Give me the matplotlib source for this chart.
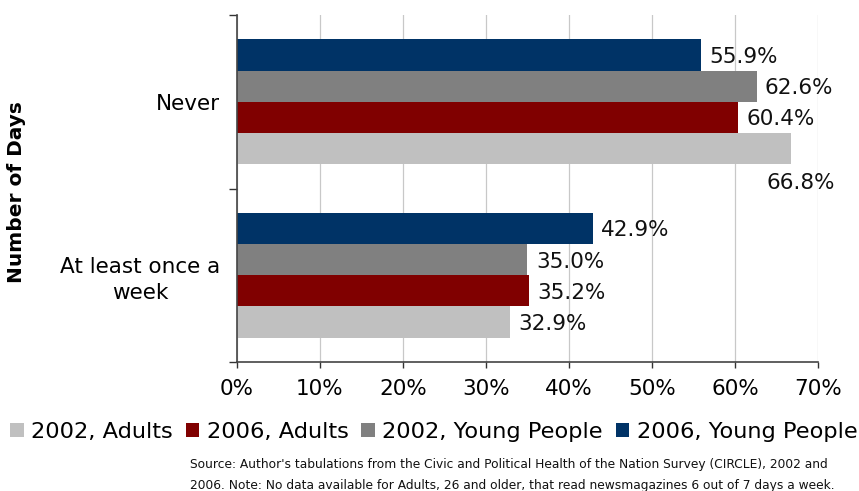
import matplotlib.pyplot as plt
from matplotlib.patches import Patch
import numpy as np

# categories, bottom to top
categories = ['At least once a\nweek', 'Never']
series = ['2002, Adults', '2006, Adults', '2002, Young People', '2006, Young People']
colors = ['#C0C0C0', '#800000', '#808080', '#003366']

# values per series, same order as categories
adults_2002 = [32.9, 66.8]
adults_2006 = [35.2, 60.4]
young_2002 = [35.0, 62.6]
young_2006 = [42.9, 55.9]
VALUES = [adults_2002, adults_2006, young_2002, young_2006]

xticks = [0, 10, 20, 30, 40, 50, 60, 70]

source = ("Source: Author's tabulations from the Civic and Political Health of the Nation Survey (CIRCLE), 2002 and\n"
          "2006. Note: No data available for Adults, 26 and older, that read newsmagazines 6 out of 7 days a week.")

plt.rcParams['font.family'] = 'DejaVu Sans'
FS = 15.5

fig = plt.figure(figsize=(8.59, 4.91), dpi=100)
W, H = 859.0, 491.0
ax = fig.add_axes([237 / W, 1 - 362 / H, (818 - 237) / W, (362 - 15) / H])

h = 0.18
ypos = np.arange(len(categories))
for i, vals in enumerate(VALUES):
    y = ypos + (i - 1.5) * h
    ax.barh(y, vals, height=h, color=colors[i], zorder=2)
    for yy, v in zip(y, vals):
        if v == 66.8:
            # this one sits below the bar in the original
            ax.annotate('%.1f%%' % v, (v, yy), xytext=(7, -25), textcoords='offset points',
                        ha='center', va='center', fontsize=FS, color='#111111')
        else:
            ax.annotate('%.1f%%' % v, (v, yy), xytext=(6, -1.5), textcoords='offset points',
                        ha='left', va='center', fontsize=FS, color='#111111')

ax.set_xlim(0, 70)
ax.set_ylim(-0.5, 1.5)
ax.set_xticks(xticks)
ax.set_xticklabels(['%d%%' % t for t in xticks], fontsize=FS)
ax.set_yticks([-0.5, 0.5, 1.5])
ax.set_yticklabels([])
ax.set_yticks(ypos, minor=True)
ax.set_yticklabels(categories, minor=True, fontsize=FS, ha='right',
                   multialignment='center', linespacing=1.35)
ax.tick_params(axis='y', which='minor', length=0, pad=12)
ax.tick_params(axis='y', which='major', length=6, width=1, color='#333333')
ax.tick_params(axis='x', length=4, width=1, color='#333333', pad=8)
ax.xaxis.grid(True, color='#C8C8C8', linewidth=0.9, zorder=0)
for s in ['top', 'right']:
    ax.spines[s].set_visible(False)
for s in ['left', 'bottom']:
    ax.spines[s].set_color('#444444')
    ax.spines[s].set_linewidth(1.2)

fig.text(17 / W, 1 - 192 / H, 'Number of Days', rotation=90, ha='center', va='center',
         fontsize=14.5, fontweight='bold')

handles = [Patch(facecolor=c) for c in colors]
fig.legend(handles, series, loc='center left', bbox_to_anchor=(10 / W, 1 - 432 / H),
           ncol=4, frameon=False, fontsize=16.2, handlelength=0.6, handleheight=0.6,
           handletextpad=0.35, columnspacing=0.55, borderpad=0, borderaxespad=0)

fig.text(190 / W, 1 - 475 / H, source, fontsize=8.8, ha='left', va='center',
         linespacing=1.75, color='#111111')

fig.savefig('out.png', dpi=100)
